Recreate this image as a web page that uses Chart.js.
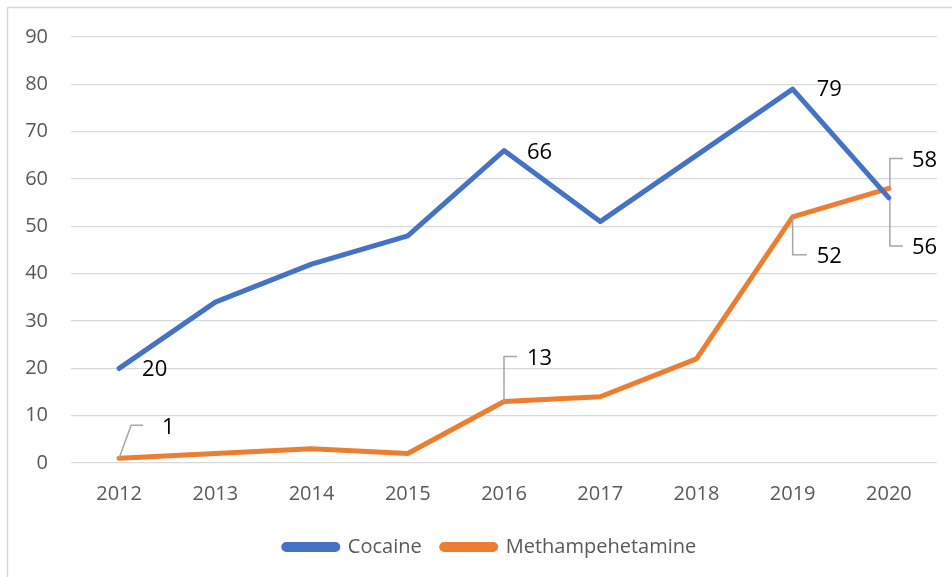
<!DOCTYPE html>
<html>
<head>
<meta charset="utf-8">
<script src="https://cdn.jsdelivr.net/npm/chart.js@4.4.0/dist/chart.umd.min.js"></script>
<style>
  body { margin: 0; background: #fff; }
  #chart_canvas { display: block; }
</style>
</head>
<body>
<canvas id="chart_canvas" width="952" height="577"></canvas>
<script>
var years = ['2012', '2013', '2014', '2015', '2016', '2017', '2018', '2019', '2020'];
var cocaine = [20, 34, 42, 48, 66, 51, 65, 79, 56];
var meth = [1, 2, 3, 2, 13, 14, 22, 52, 58];
var seriesNames = ['Cocaine', 'Methampehetamine'];

// which points get a value label, and where it sits (text left / middle, leader path) relative to the point
var cocaineLabels = {
    0: { text: [23, 1], leader: null },
    4: { text: [23, 2], leader: null },
    7: { text: [24, 1], leader: null },
    8: { text: [23, 50], leader: [[1, 2], [1, 48], [14, 48]] }
};
var methLabels = {
    0: { text: [43, -31], leader: [[0, 0], [12, -33], [24, -33]] },
    4: { text: [23, -43], leader: [[0, 0], [0, -45], [13, -45]] },
    7: { text: [24, 40], leader: [[0, 0], [0, 38], [14, 38]] },
    8: { text: [23, -28], leader: [[1, 0], [1, -30], [14, -30]] }
};

var graphCanvas = document.getElementById('chart_canvas');
var labelFont = '22px "Open Sans"';

var dataLabels = {
    id: 'dataLabels',
    afterDatasetsDraw: function (chart) {
        var ctx = chart.ctx;
        var spots = [cocaineLabels, methLabels];
        ctx.save();
        for (var d = 0; d < chart.data.datasets.length; d++) {
            var meta = chart.getDatasetMeta(d);
            var values = chart.data.datasets[d].data;
            for (var key in spots[d]) {
                var i = parseInt(key);
                var spot = spots[d][key];
                var pt = meta.data[i];
                if (spot.leader) {
                    ctx.strokeStyle = '#a6a6a6';
                    ctx.lineWidth = 1.5;
                    ctx.beginPath();
                    for (var k = 0; k < spot.leader.length; k++) {
                        var lx = pt.x + spot.leader[k][0];
                        var ly = pt.y + spot.leader[k][1];
                        if (k == 0) ctx.moveTo(lx, ly);
                        else ctx.lineTo(lx, ly);
                    }
                    ctx.stroke();
                }
                ctx.fillStyle = '#000000';
                ctx.font = labelFont;
                ctx.textAlign = 'left';
                ctx.textBaseline = 'middle';
                ctx.fillText(String(values[i]), pt.x + spot.text[0], pt.y + spot.text[1]);
            }
        }
        ctx.restore();
    }
};

var frame = {
    id: 'frame',
    beforeDraw: function (chart) {
        var ctx = chart.ctx;
        ctx.save();
        ctx.fillStyle = '#ffffff';
        ctx.fillRect(0, 0, chart.width, chart.height);
        ctx.strokeStyle = '#d9d9d9';
        ctx.lineWidth = 1.5;
        ctx.strokeRect(7.5, 7.5, chart.width + 10, chart.height + 10);
        ctx.restore();
    },
    // legend sits a bit right of the canvas middle, as in the original
    afterLayout: function (chart) {
        chart.legend.left = 43;
        chart.legend.right = 937;
    }
};

var myChart = new Chart(graphCanvas, {
    type: 'line',
    data: {
        labels: years,
        datasets: [{
                label: seriesNames[0],
                data: cocaine,
                borderColor: '#4472c4',
                backgroundColor: '#4472c4',
                borderWidth: 5,
                borderCapStyle: 'round',
                borderJoinStyle: 'round',
                pointRadius: 0,
                tension: 0
            }, {
                label: seriesNames[1],
                data: meth,
                borderColor: '#ed7d31',
                backgroundColor: '#ed7d31',
                borderWidth: 5,
                borderCapStyle: 'round',
                borderJoinStyle: 'round',
                pointRadius: 0,
                tension: 0
            }]
    },
    options: {
        responsive: false,
        animation: false,
        layout: { padding: { left: 15, right: 15, top: 37, bottom: 10 } },
        plugins: {
            tooltip: { enabled: false },
            legend: {
                position: 'bottom',
                labels: {
                    color: '#595959',
                    font: { family: 'Open Sans', size: 20 },
                    boxWidth: 54,
                    boxHeight: 5,
                    useBorderRadius: true,
                    borderRadius: 2.5,
                    padding: 20
                }
            }
        },
        scales: {
            x: {
                offset: true,
                grid: { display: false, drawTicks: false, offset: true },
                border: { display: false },
                ticks: {
                    color: '#595959',
                    font: { family: 'Open Sans', size: 20 },
                    padding: 19,
                    maxRotation: 0
                },
                afterFit: function (scale) { scale.height = 54; }
            },
            y: {
                min: 0,
                max: 90,
                grid: { color: '#d9d9d9', lineWidth: 1.3, drawTicks: false },
                border: { display: false },
                ticks: {
                    stepSize: 10,
                    color: '#595959',
                    font: { family: 'Open Sans', size: 20 },
                    padding: 23
                },
                afterFit: function (scale) { scale.width = 56; }
            }
        }
    },
    plugins: [frame, dataLabels]
});
</script>
</body>
</html>
